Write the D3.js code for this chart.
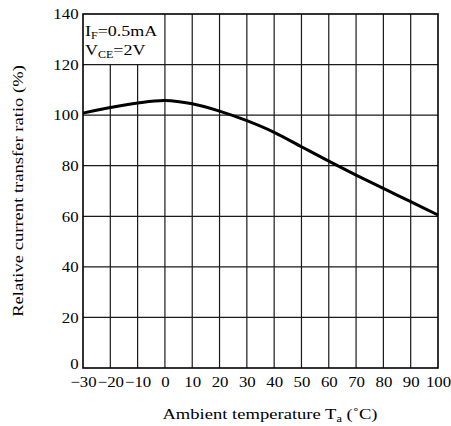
<!DOCTYPE html>
<html>
<head>
<meta charset="utf-8">
<script src="https://cdn.jsdelivr.net/npm/d3@7"></script>
<style>
  html, body { margin: 0; padding: 0; background: #fff; }
</style>
</head>
<body>
<svg id="chart" width="451" height="426"></svg>
<script>
// Data
const temperatures = [-30, -20, -10, 0, 10, 20, 30, 40, 50, 60, 70, 80, 90, 100];
const ctrValues    = [100.8, 103.0, 104.8, 105.8, 104.5, 101.6, 97.8, 93.2, 87.5, 81.8, 76.3, 71.0, 65.8, 60.5];
const xTicks = [-30, -20, -10, 0, 10, 20, 30, 40, 50, 60, 70, 80, 90, 100];
const yTicks = [0, 20, 40, 60, 80, 100, 120, 140];
const conditionLines = [
  { main: "I", sub: "F", rest: "=0.5mA" },
  { main: "V", sub: "CE", rest: "=2V" }
];

const FONT = "'Liberation Serif', Tinos, 'Times New Roman', Times, serif";
const svg = d3.select("#chart");
const mLeft = 83, mTop = 14, mRight = 438, mBottom = 368;

const x = d3.scaleLinear().domain([-30, 100]).range([mLeft, mRight]);
const y = d3.scaleLinear().domain([0, 140]).range([mBottom, mTop]);

const g = svg.append("g");

// Vertical grid lines (those inside the condition box stop at 120)
g.selectAll("line.vgrid")
  .data(xTicks.filter(t => t > -30 && t < 100))
  .enter().append("line")
  .attr("x1", d => x(d)).attr("x2", d => x(d))
  .attr("y1", y(0))
  .attr("y2", d => (d < 0 ? y(120) : y(140)))
  .attr("stroke", "#1a1a1a").attr("stroke-width", 1.2);

// Horizontal grid lines
g.selectAll("line.hgrid")
  .data(yTicks.filter(t => t > 0 && t < 140))
  .enter().append("line")
  .attr("x1", x(-30)).attr("x2", x(100))
  .attr("y1", d => y(d)).attr("y2", d => y(d))
  .attr("stroke", "#1a1a1a").attr("stroke-width", 1.2);

// Plot border
g.append("rect")
  .attr("x", x(-30)).attr("y", y(140))
  .attr("width", x(100) - x(-30)).attr("height", y(0) - y(140))
  .attr("fill", "none").attr("stroke", "#000").attr("stroke-width", 1.6);

// Curve
const line = d3.line()
  .x((d, i) => x(temperatures[i]))
  .y(d => y(d))
  .curve(d3.curveCatmullRom.alpha(0.5));

g.append("path")
  .datum(ctrValues)
  .attr("d", line)
  .attr("fill", "none")
  .attr("stroke", "#000")
  .attr("stroke-width", 3);

// Axes (labels only)
const yAxis = d3.axisLeft(y).tickValues(yTicks).tickSize(0).tickPadding(5);
const ya = g.append("g").attr("transform", `translate(${mLeft},0)`).call(yAxis);
ya.select(".domain").remove();
ya.selectAll("text")
  .style("font-family", FONT).style("font-size", "15px")
  .attr("fill", "#000")
  .attr("x", -4)
  .attr("dy", d => (d === 0 ? "0.05em" : "0.32em"))
  .attr("transform", "scale(1.12,1)");

const xAxis = d3.axisBottom(x).tickValues(xTicks).tickSize(0).tickPadding(8)
  .tickFormat(d => (d < 0 ? "\u2212" + Math.abs(d) : d));
const xa = g.append("g").attr("transform", `translate(0,${mBottom})`).call(xAxis);
xa.select(".domain").remove();
xa.selectAll("text")
  .style("font-family", FONT).style("font-size", "15px")
  .attr("fill", "#000")
  .attr("transform", "scale(1.12,1)");

// Condition box text
conditionLines.forEach((c, i) => {
  const t = g.append("g")
    .attr("transform", `translate(${mLeft + 2},${36 + i * 19}) scale(1.2,1)`)
    .append("text")
    .style("font-family", FONT).style("font-size", "15px");
  t.append("tspan").text(c.main);
  t.append("tspan").style("font-size", "10px").attr("dy", 3).text(c.sub);
  t.append("tspan").attr("dy", -3).text(c.rest);
});

// Axis titles
const xt = svg.append("g")
  .attr("transform", "translate(270,419) scale(1.24,1)")
  .append("text")
  .attr("text-anchor", "middle")
  .style("font-family", FONT).style("font-size", "15px");
xt.append("tspan").text("Ambient temperature T");
xt.append("tspan").style("font-size", "10px").attr("dy", 3).text("a");
xt.append("tspan").attr("dy", -3).text(" (\u02DAC)");

svg.append("g")
  .attr("transform", "translate(23,191) rotate(-90) scale(1.24,1)")
  .append("text")
  .attr("text-anchor", "middle")
  .style("font-family", FONT).style("font-size", "15px")
  .text("Relative current transfer ratio (%)");
</script>
</body>
</html>
